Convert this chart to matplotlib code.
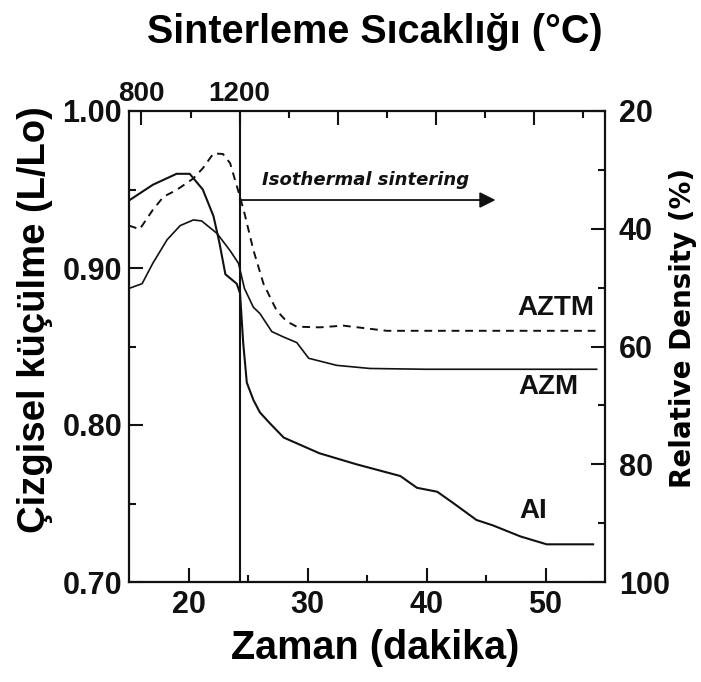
import matplotlib
matplotlib.use("Agg")
import matplotlib.pyplot as plt
from matplotlib.ticker import FixedLocator, FixedFormatter

# ---------------- data ----------------
t_ai = [15.0, 17.0, 19.0, 20.1, 21.2, 22.1, 22.6, 23.1, 24.05, 24.33, 24.6, 24.9,
        25.45, 26.0, 26.85, 28.0, 31.0, 34.1, 37.8, 39.2, 40.9, 42.3, 44.2, 45.6,
        47.9, 50.1, 54.0]
v_ai = [0.943, 0.953, 0.960, 0.960, 0.950, 0.933, 0.916, 0.896, 0.890, 0.884, 0.852, 0.827,
        0.816, 0.808, 0.801, 0.792, 0.782, 0.775, 0.7675, 0.760, 0.7575, 0.750, 0.7395, 0.736,
        0.729, 0.724, 0.724]

t_azm = [15.0, 16.1, 17.0, 18.2, 19.3, 20.4, 21.1, 22.4, 23.5, 24.2, 24.7, 25.45,
         26.0, 27.0, 28.0, 29.1, 30.1, 32.45, 35.25, 40.0, 54.3]
v_azm = [0.887, 0.890, 0.903, 0.918, 0.927, 0.9306, 0.930, 0.922, 0.911, 0.903, 0.887, 0.875,
         0.871, 0.8595, 0.856, 0.8525, 0.8425, 0.838, 0.836, 0.8355, 0.8355]

t_aztm = [15.0, 15.9, 17.0, 17.9, 19.0, 20.4, 21.2, 22.1, 22.9, 23.5, 24.3, 24.7,
          25.45, 26.3, 27.4, 28.25, 29.1, 31.05, 33.0, 36.65, 54.3]
v_aztm = [0.927, 0.9247, 0.937, 0.9454, 0.9497, 0.957, 0.9635, 0.973, 0.9726, 0.9667, 0.946, 0.935,
          0.9115, 0.890, 0.873, 0.866, 0.8626, 0.8622, 0.8633, 0.860, 0.860]

series_names = ["AZTM", "AZM", "AI"]

x_ticks = [20, 30, 40, 50]
x_minor = [25, 35, 45]
y_ticks = [0.70, 0.80, 0.90, 1.00]
y_minor = [0.75, 0.85, 0.95]
dens_ticks = [20, 40, 60, 80, 100]
dens_minor = [30, 50, 70, 90]
temp_major = [800, 1200, 1600, 2000, 2400]
temp_major_labels = ["800", "1200", "", "", ""]
temp_minor = [1000, 1400, 1800, 2200, 2600]

t800 = 16.05          # time at 800 °C
iso_start = 24.3      # time at 1200 °C (start of isothermal sintering)
arrow_end = 45.8

title_txt = "Sinterleme Sıcaklığı (°C)"
xlabel_txt = "Zaman (dakika)"
ylabel_txt = "Çizgisel küçülme (L/Lo)"
y2label_txt = "Relative Density (%)"
iso_txt = "Isothermal sintering"

# ---------------- figure ----------------
W, H = 701, 682
fig = plt.figure(figsize=(W / 100, H / 100), dpi=100)
ax = fig.add_axes([129 / W, 100 / H, 476 / W, 471 / H])

BF = "Liberation Sans"
col = "#111111"

ax.plot(t_ai, v_ai, color=col, lw=1.5, solid_joinstyle="round")
ax.plot(t_azm, v_azm, color=col, lw=1.2, solid_joinstyle="round")
ax.plot(t_aztm, v_aztm, color=col, lw=1.4, linestyle=(0, (4, 3)))

ax.set_xlim(15, 55)
ax.set_ylim(0.70, 1.00)
ax.xaxis.set_major_locator(FixedLocator(x_ticks))
ax.xaxis.set_minor_locator(FixedLocator(x_minor))
ax.yaxis.set_major_locator(FixedLocator(y_ticks))
ax.yaxis.set_minor_locator(FixedLocator(y_minor))
ax.set_yticklabels([f"{v:.2f}" for v in y_ticks])
ax.set_xticklabels([str(v) for v in x_ticks])
ax.tick_params(which="both", direction="in", top=False, right=False, width=1.5, colors=col)
ax.tick_params(which="major", length=10)
ax.tick_params(which="minor", length=5)
ax.tick_params(axis="y", which="major", labelsize=22, pad=5)
ax.tick_params(axis="x", which="major", labelsize=22, pad=6)
for lab in ax.get_xticklabels() + ax.get_yticklabels():
    lab.set_fontfamily(BF)
    lab.set_fontweight("bold")
for s in ax.spines.values():
    s.set_linewidth(1.6)
    s.set_color(col)

# right axis: relative density
ax2 = ax.twinx()
ax2.set_ylim(100, 20)
ax2.yaxis.set_major_locator(FixedLocator(dens_ticks))
ax2.yaxis.set_minor_locator(FixedLocator(dens_minor))
ax2.set_yticklabels([str(v) for v in dens_ticks])
ax2.tick_params(which="both", direction="in", width=1.5, colors=col)
ax2.tick_params(which="major", length=10, labelsize=22, pad=10)
ax2.tick_params(which="minor", length=5)
for lab in ax2.get_yticklabels():
    lab.set_fontfamily(BF)
    lab.set_fontweight("bold")
for s in ax2.spines.values():
    s.set_visible(False)

# top axis: sintering temperature
rate = 400.0 / (iso_start - t800)


def t2T(t):
    return 800 + (t - t800) * rate


def T2t(T):
    return t800 + (T - 800) / rate


sec = ax.secondary_xaxis("top", functions=(t2T, T2t))
sec.xaxis.set_major_locator(FixedLocator(temp_major))
sec.xaxis.set_major_formatter(FixedFormatter(temp_major_labels))
sec.xaxis.set_minor_locator(FixedLocator(temp_minor))
sec.tick_params(which="both", direction="in", width=1.5, colors=col)
sec.tick_params(which="major", length=10, labelsize=20, pad=3)
sec.tick_params(which="minor", length=5)
for lab in sec.get_xticklabels():
    lab.set_fontfamily(BF)
    lab.set_fontweight("bold")
sec.spines["top"].set_visible(False)

# isothermal marker
ax.axvline(iso_start, color=col, lw=1.5)
arrow_y = 0.9433
ax.annotate("", xy=(arrow_end, arrow_y), xytext=(iso_start, arrow_y),
            arrowprops=dict(arrowstyle="-|>", lw=1.3, color=col, mutation_scale=24,
                            shrinkA=0, shrinkB=0))
ax.text(26.2, 0.956, iso_txt, fontsize=13, fontweight="bold", fontstyle="italic",
        family="DejaVu Sans", ha="left", va="center", color=col)

# series labels
label_pos = {"AZTM": (50.9, 0.8745), "AZM": (50.2, 0.8245), "AI": (49.0, 0.7455)}
for name in series_names:
    x, y = label_pos[name]
    ax.text(x, y, name, fontsize=20, fontweight="bold", family=BF,
            ha="center", va="center", color=col)

# axis titles
fig.text(375 / W, 1 - 32 / H, title_txt, fontsize=28.5, fontweight="bold", family=BF,
         ha="center", va="center")
fig.text(375 / W, 1 - 648 / H, xlabel_txt, fontsize=28.5, fontweight="bold", family=BF,
         ha="center", va="center")
fig.text(35 / W, 1 - 320 / H, ylabel_txt, fontsize=27.5, fontweight="bold", family=BF,
         ha="center", va="center", rotation=90)
fig.text(683 / W, 1 - 328 / H, y2label_txt, fontsize=20, fontweight="bold",
         family="DejaVu Sans", ha="center", va="center", rotation=90)

fig.savefig("out.png", dpi=100)
